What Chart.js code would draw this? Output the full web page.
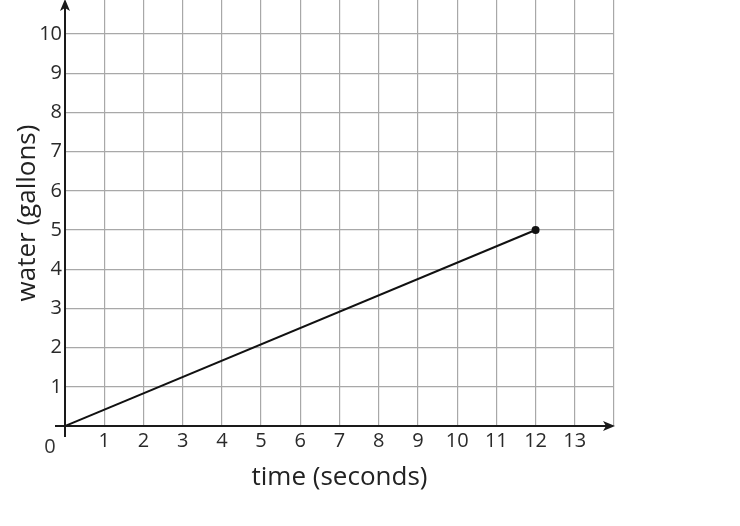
<!DOCTYPE html>
<html>
<head>
<meta charset="utf-8">
<script src="https://cdn.jsdelivr.net/npm/chart.js@4"></script>
<style>
html,body{margin:0;padding:0;background:#fff;}
#wrap{width:740px;height:526px;}
</style>
</head>
<body>
<div id="wrap"><canvas id="c" width="740" height="526"></canvas></div>
<script>
// Data
const times = [0, 12];
const water = [0, 5];
const xTickValues = [0,1,2,3,4,5,6,7,8,9,10,11,12,13,14];
const xTickLabels = ['', '1','2','3','4','5','6','7','8','9','10','11','12','13',''];
const yTickValues = [0,1,2,3,4,5,6,7,8,9,10];
const yTickLabels = ['', '1','2','3','4','5','6','7','8','9','10'];
const xMax = 14;
const yMax = 10.87;

const FONT = "'Open Sans', 'Noto Sans', sans-serif";
const gridColor = (ctx) => (ctx.tick && ctx.tick.value === 0) ? 'rgba(0,0,0,0)' : '#a8a8a8';

const axesPlugin = {
  id: 'axesArrows',
  afterDatasetsDraw(chart) {
    const {ctx, scales: {x, y}} = chart;
    const x0 = x.getPixelForValue(0), xEnd = x.getPixelForValue(xMax);
    const y0 = y.getPixelForValue(0), yTop = y.getPixelForValue(yMax);
    ctx.save();
    ctx.strokeStyle = '#1a1a1a';
    ctx.fillStyle = '#1a1a1a';
    ctx.lineWidth = 2;
    // x axis
    ctx.beginPath();
    ctx.moveTo(x0 - 10, y0);
    ctx.lineTo(xEnd - 6, y0);
    ctx.stroke();
    ctx.beginPath();
    ctx.moveTo(xEnd + 1, y0);
    ctx.lineTo(xEnd - 11, y0 - 5);
    ctx.lineTo(xEnd - 8, y0);
    ctx.lineTo(xEnd - 11, y0 + 5);
    ctx.closePath();
    ctx.fill();
    // y axis
    ctx.beginPath();
    ctx.moveTo(x0, y0 + 11);
    ctx.lineTo(x0, yTop + 6);
    ctx.stroke();
    ctx.beginPath();
    ctx.moveTo(x0, yTop - 1);
    ctx.lineTo(x0 - 5, yTop + 11);
    ctx.lineTo(x0, yTop + 8);
    ctx.lineTo(x0 + 5, yTop + 11);
    ctx.closePath();
    ctx.fill();
    // origin label
    ctx.font = "20px " + FONT;
    ctx.fillStyle = '#333';
    ctx.textAlign = 'center';
    ctx.textBaseline = 'middle';
    ctx.fillText('0', x0 - 15, y0 + 21);
    ctx.restore();
  }
};

new Chart(document.getElementById('c'), {
  type: 'scatter',
  data: {
    datasets: [{
      data: times.map((t, i) => ({x: t, y: water[i]})),
      showLine: true,
      borderColor: '#111',
      borderWidth: 2,
      backgroundColor: '#111',
      pointRadius: [0, 4],
      pointHoverRadius: [0, 4],
      pointBorderWidth: 0
    }]
  },
  options: {
    responsive: false,
    animation: false,
    events: [],
    layout: {autoPadding: false, padding: {top: 0, right: 126, left: 0, bottom: 0}},
    plugins: {legend: {display: false}, tooltip: {enabled: false}},
    scales: {
      x: {
        type: 'linear',
        min: 0, max: xMax,
        afterBuildTicks: (s) => { s.ticks = xTickValues.map(v => ({value: v})); },
        afterFit: (s) => { s.height = 100; s.paddingLeft = 0; s.paddingRight = 0; },
        grid: {color: gridColor, lineWidth: 1.2, drawTicks: false},
        border: {display: false},
        ticks: {
          autoSkip: false, maxRotation: 0, padding: 3,
          color: '#2a2a2a', font: {family: FONT, size: 20},
          callback: (v, i) => xTickLabels[i]
        },
        title: {display: true, text: 'time (seconds)', color: '#222',
          font: {family: FONT, size: 26}, padding: {top: 0, bottom: 33}}
      },
      y: {
        type: 'linear',
        min: 0, max: yMax,
        afterBuildTicks: (s) => { s.ticks = yTickValues.map(v => ({value: v})); },
        afterFit: (s) => { s.width = 65; s.paddingTop = 0; s.paddingBottom = 0; },
        grid: {color: gridColor, lineWidth: 1.2, drawTicks: false},
        border: {display: false},
        ticks: {
          autoSkip: false, padding: 3,
          color: '#2a2a2a', font: {family: FONT, size: 20},
          callback: (v, i) => yTickLabels[i]
        },
        title: {display: true, text: 'water (gallons)', color: '#222',
          font: {family: FONT, size: 26}, padding: {top: 12, bottom: 0}}
      }
    }
  },
  plugins: [axesPlugin]
});
</script>
</body>
</html>
